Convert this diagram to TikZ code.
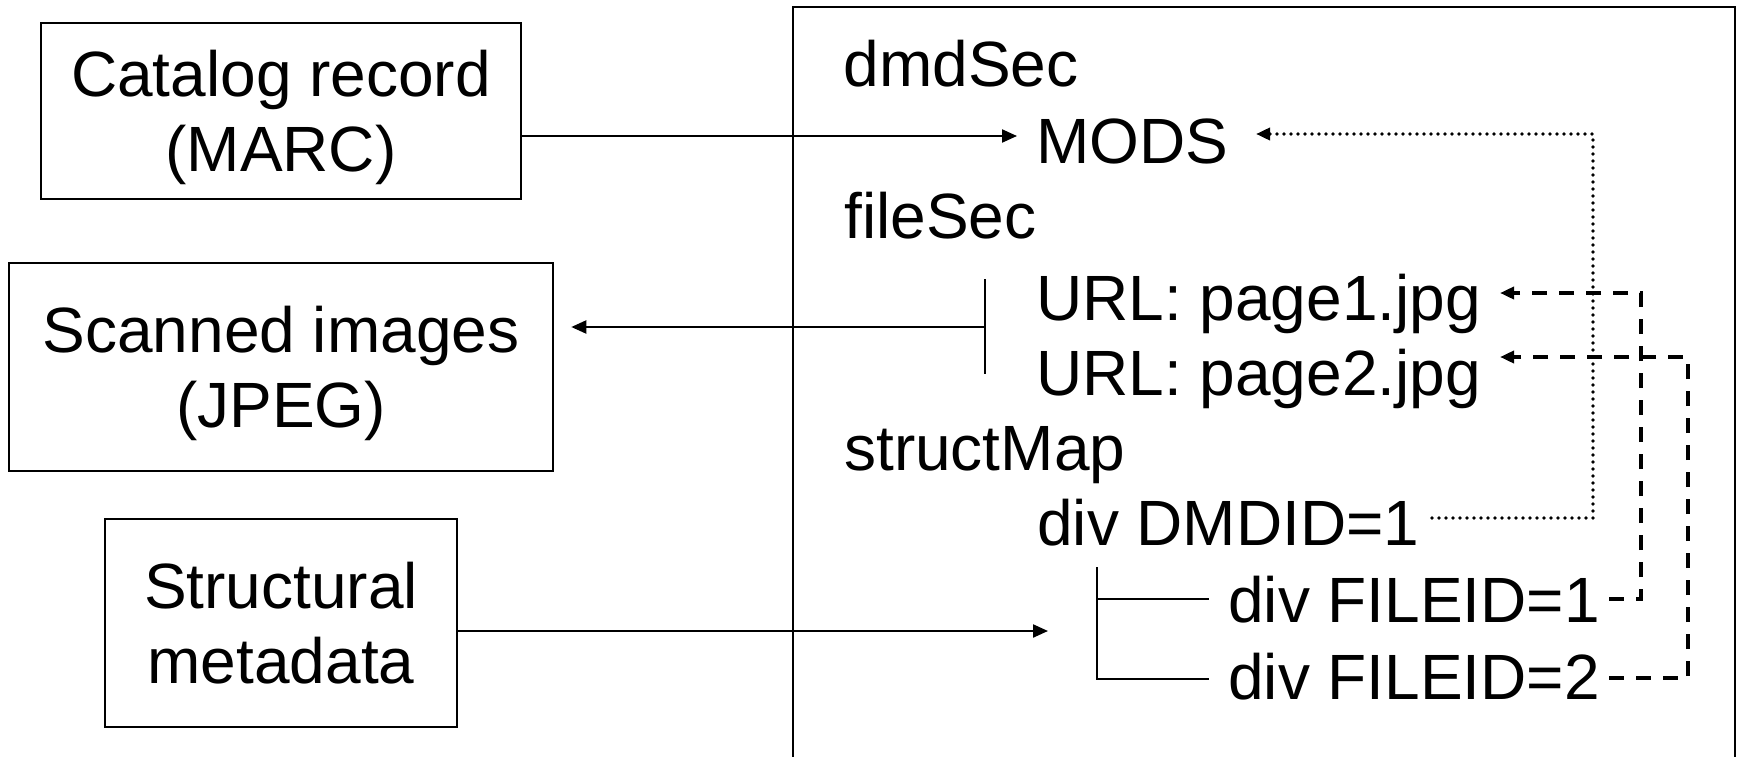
\documentclass[tikz,border=0pt]{standalone}
\usepackage{fontspec}
\setmainfont{Liberation Sans}
\usetikzlibrary{arrows.meta}
\newcommand{\lnstrut}{\rule[-16pt]{0pt}{64pt}}
\begin{document}
\begin{tikzpicture}[x=1pt,y=-1pt,
  every node/.style={font=\fontsize{64pt}{75pt}\selectfont, inner sep=0pt},
  boxshape/.style={draw, line width=2.6pt, rectangle},
  boxtxt/.style={align=center},
  txt/.style={anchor=base west},
  conn/.style={line width=2.2pt},
  arr/.style={conn, -{Triangle[length=15pt,width=13pt]}},
  dotline/.style={line width=3.8pt, line cap=round, dash pattern=on 0pt off 7pt, -{Triangle[length=14pt,width=12pt]}},
  dashline/.style={line width=3.7pt, dash pattern=on 15pt off 12pt, -{Triangle[length=14pt,width=12pt]}}]
\useasboundingbox (0,0) rectangle (1742,757);
\fill[white] (0,0) rectangle (1742,757);

% container
\draw[line width=2.8pt] (793,760) -- (793,7) -- (1735,7) -- (1735,760);

% left boxes
\node[boxshape, minimum width=480pt, minimum height=176pt] (cat) at (281,111) {};
\node[boxtxt] (catT) at (281,118) {\lnstrut Catalog record\\\lnstrut (MARC)};
\node[boxshape, minimum width=544pt, minimum height=208pt] (scan) at (281,367) {};
\node[boxtxt] (scanT) at (281,374) {\lnstrut Scanned images\\\lnstrut (JPEG)};
\node[boxshape, minimum width=352pt, minimum height=208pt] (struct) at (281,623) {};
\node[boxtxt] (structT) at (281,630) {\lnstrut Structural\\\lnstrut metadata};

% METS text
\node[txt] (dmd) at (843.5,87) {dmdSec};
\node[txt] (mods) at (1036,163) {MODS};
\node[txt] (file) at (844,238) {fileSec};
\node[txt] (url1) at (1036,320) {URL: page1.jpg};
\node[txt] (url2) at (1036,395) {URL: page2.jpg};
\node[txt] (smap) at (844,470) {structMap};
\node[txt] (dmdid) at (1037,545) {div DMDID=1};
\node[txt] (fid1) at (1228,622) {div FILEID=1};
\node[txt] (fid2) at (1228,699) {div FILEID=2};

% catalog -> MODS
\coordinate (modsIn) at (1017,136);
\draw[arr] (cat.east |- modsIn) -- (modsIn);

% fileSec bracket -> scanned images
\coordinate (brTop) at (985,279);
\coordinate (brBot) at (985,374);
\coordinate (brMid) at (985,327);
\draw[conn] (brTop) -- (brBot);
\draw[arr, shorten >=17pt] (brMid) -- (scan.east |- brMid);

% structural -> structMap tree
\coordinate (treeIn) at (1048,631);
\draw[arr] (struct.east |- treeIn) -- (treeIn);
\coordinate (trTop) at (1097,567);
\coordinate (tr1) at (1209,599);
\coordinate (tr2) at (1209,679);
\draw[conn] (trTop) |- (tr2);
\draw[conn] (trTop |- tr1) -- (tr1);

% DMDID -> MODS (dotted)
\coordinate (d0) at (1432,518);
\coordinate (dR) at (1593,134);
\coordinate (modsOut) at (1256,134);
\draw[dotline] (d0) -| (dR) -- (modsOut);

% FILEID -> URLs (dashed)
\coordinate (f1s) at (1609,599);
\coordinate (f1c) at (1641,293);
\coordinate (u1in) at (1500,293);
\draw[dashline] (f1s) -| (f1c) -- (u1in);
\coordinate (f2s) at (1609,678);
\coordinate (f2c) at (1688,357);
\coordinate (u2in) at (1500,357);
\draw[dashline] (f2s) -| (f2c) -- (u2in);
\end{tikzpicture}
\end{document}
